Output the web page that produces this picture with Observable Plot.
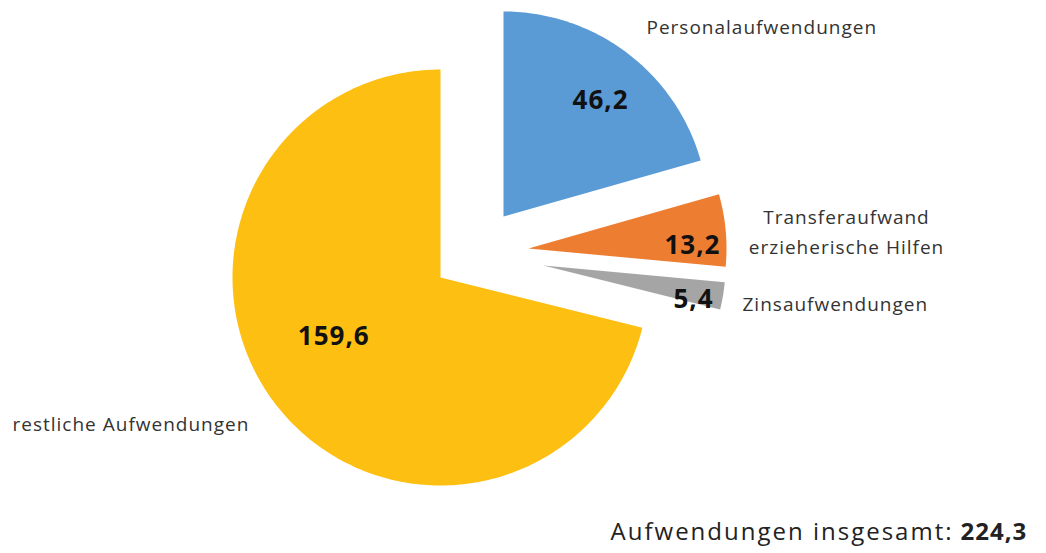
<!DOCTYPE html>
<html>
<head>
<meta charset="utf-8">
<script src="https://cdn.jsdelivr.net/npm/d3@7"></script>
<script src="https://cdn.jsdelivr.net/npm/@observablehq/plot@0.6"></script>
<style>
  html, body { margin: 0; padding: 0; background: #fff; }
  svg { display: block; }
  .cat text { letter-spacing: 1px; }
  .val text { letter-spacing: 1px; }
  .tot text { letter-spacing: 2px; }
</style>
</head>
<body>
<div id="chart"></div>
<script>
// ---- data ----
const categories = ["Personalaufwendungen", "Transferaufwand erzieherische Hilfen", "Zinsaufwendungen", "restliche Aufwendungen"];
const labelLines = [["Personalaufwendungen"], ["Transferaufwand", "erzieherische Hilfen"], ["Zinsaufwendungen"], ["restliche Aufwendungen"]];
const values = [46.2, 13.2, 5.4, 159.6];
const valueLabels = ["46,2", "13,2", "5,4", "159,6"];
const totalText = "Aufwendungen insgesamt:";
const totalValue = "224,3";
const colors = ["#5B9BD5", "#ED7D31", "#A5A5A5", "#FDBF12"];

// ---- layout (exploded pie geometry) ----
const centers = [[503, 216], [528, 248], [543, 265], [440, 277]];
const radii = [205, 198, 182, 208];
const valuePolar = [[151, 40], [164, 89], [154, 103], [122, 241]]; // distance, angle (deg, clockwise from top)
const catPos = [[646, 27, "start"], [846, 229, "middle"], [742, 304, "start"], [12, 424, "start"]];

const arcs = d3.pie().sort(null).value(d => d)(values);

const slicePts = [];
arcs.forEach((a, i) => {
  const [cx, cy] = centers[i], r = radii[i];
  slicePts.push({cat: categories[i], x: cx, y: cy});
  const n = Math.max(4, Math.ceil((a.endAngle - a.startAngle) * 180 / Math.PI));
  for (let k = 0; k <= n; k++) {
    const t = a.startAngle + (a.endAngle - a.startAngle) * k / n;
    slicePts.push({cat: categories[i], x: cx + r * Math.sin(t), y: cy - r * Math.cos(t)});
  }
  slicePts.push({cat: categories[i], x: cx, y: cy});
});

const valueData = values.map((v, i) => {
  const [d, ang] = valuePolar[i];
  const t = ang * Math.PI / 180;
  return {label: valueLabels[i], x: centers[i][0] + d * Math.sin(t), y: centers[i][1] - d * Math.cos(t)};
});

const catData = categories.map((c, i) => ({label: labelLines[i].join("\n"), x: catPos[i][0], y: catPos[i][1], anchor: catPos[i][2]}));

const font = "Open Sans, sans-serif";

const chart = Plot.plot({
  width: 1046,
  height: 553,
  margin: 0,
  style: {fontFamily: font, background: "#fff"},
  x: {domain: [0, 1046], range: [0, 1046], axis: null},
  y: {domain: [0, 553], range: [0, 553], axis: null},
  color: {domain: categories, range: colors},
  marks: [
    Plot.line(slicePts, {x: "x", y: "y", z: "cat", fill: "cat", stroke: null, curve: "linear"}),
    Plot.text(valueData, {x: "x", y: "y", text: "label", fontSize: 26, fontWeight: "bold", fill: "#111", className: "val"}),
    Plot.text(catData.filter(d => d.anchor === "start"), {x: "x", y: "y", text: "label", fontSize: 19, fill: "#333", textAnchor: "start", className: "cat"}),
    Plot.text(catData.filter(d => d.anchor === "middle"), {x: "x", y: "y", text: "label", fontSize: 19, fill: "#333", textAnchor: "middle", lineHeight: 1.58, className: "cat"}),
    Plot.text([totalText], {x: [953], y: [532], text: d => d, fontSize: 24, fill: "#222", textAnchor: "end", className: "tot"}),
    Plot.text([totalValue], {x: [960], y: [532], text: d => d, fontSize: 24, fontWeight: "bold", fill: "#222", textAnchor: "start", className: "val"})
  ]
});
document.getElementById("chart").appendChild(chart);
</script>
</body>
</html>
